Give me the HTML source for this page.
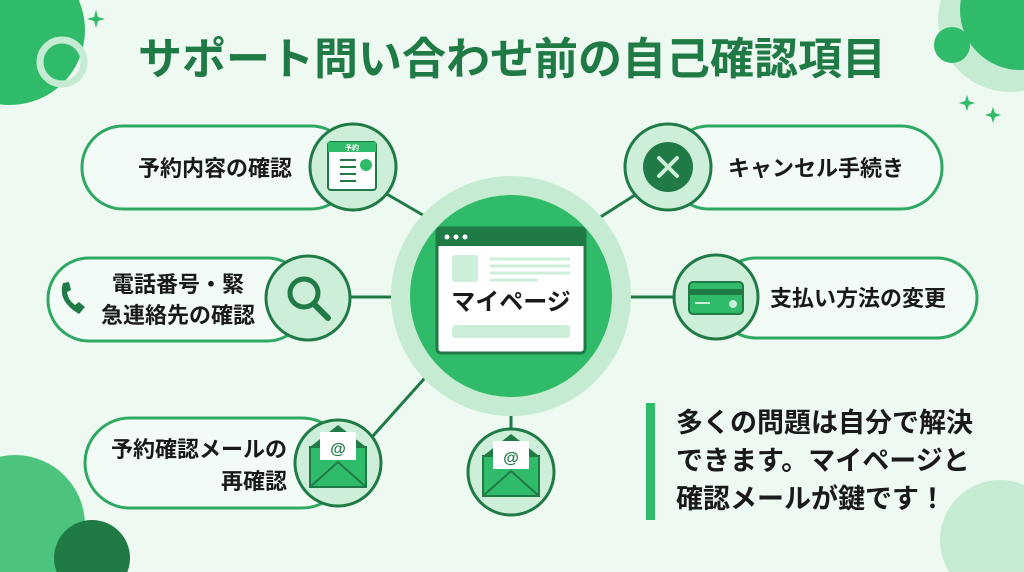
<!DOCTYPE html>
<html><head><meta charset="utf-8">
<style>
html,body{margin:0;padding:0;background:#eef9f2;}
svg{display:block;}
text{font-family:"Liberation Sans","Noto Sans CJK JP",sans-serif;font-weight:bold;}
</style></head>
<body>
<svg width="1024" height="572" viewBox="0 0 1024 572" xmlns="http://www.w3.org/2000/svg">
<rect width="1024" height="572" fill="#eef9f2"/>
<!-- decorations -->
<circle cx="10" cy="30" r="75" fill="#2fbb69"/>
<circle cx="62" cy="62" r="22" fill="none" stroke="#c5ebd3" stroke-width="7"/>
<path d="M96 10 L98 17 L105 19 L98 21 L96 28 L94 21 L87 19 L94 17Z" fill="#2fbb69"/>
<circle cx="1010" cy="20" r="72" fill="#c5ebd3"/>
<circle cx="1020" cy="10" r="60" fill="#2fbb69"/>
<circle cx="952" cy="45" r="18" fill="#2fbb69"/>
<path d="M967 95 L969 101 L975 103 L969 105 L967 111 L965 105 L959 103 L965 101Z" fill="#2fbb69"/>
<path d="M993 107 L995 113 L1001 115 L995 117 L993 123 L991 117 L985 115 L991 113Z" fill="#2fbb69"/>
<circle cx="15" cy="525" r="70" fill="#2fbb69" opacity="0.85"/>
<circle cx="92" cy="558" r="38" fill="#1f7a45"/>
<circle cx="1000" cy="540" r="60" fill="#c5ebd3"/>
<!-- title -->
<text x="512" y="74" font-size="44" fill="#1f7a45" text-anchor="middle">サポート問い合わせ前の自己確認項目</text>
<!-- connectors -->
<g stroke="#1f7a45" stroke-width="3">
<line x1="385" y1="193" x2="440" y2="225"/>
<line x1="350" y1="297" x2="410" y2="297"/>
<line x1="372" y1="437" x2="432" y2="370"/>
<line x1="635" y1="195" x2="588" y2="225"/>
<line x1="612" y1="297" x2="673" y2="297"/>
<line x1="511" y1="398" x2="511" y2="430"/>
</g>
<!-- pills -->
<g fill="#f3fbf6" stroke="#2fa864" stroke-width="3">
<rect x="82" y="126" width="270" height="83" rx="41"/>
<rect x="48" y="258" width="260" height="83" rx="41"/>
<rect x="85" y="418" width="262" height="90" rx="45"/>
<rect x="668" y="126" width="274" height="83" rx="41"/>
<rect x="716" y="258" width="261" height="80" rx="40"/>
</g>
<!-- icon circles -->
<g fill="#cdeed8" stroke="#1f7a45" stroke-width="3">
<circle cx="353" cy="167" r="43"/>
<circle cx="308" cy="298" r="42"/>
<circle cx="338" cy="463" r="43"/>
<circle cx="668" cy="167" r="43"/>
<circle cx="716" cy="297" r="42"/>
<circle cx="511" cy="472" r="43"/>
</g>
<!-- icon1: doc -->
<rect x="328" y="142" width="48" height="48" rx="3" fill="#fff" stroke="#1f7a45" stroke-width="2"/>
<rect x="328" y="142" width="48" height="10" fill="#2fbb69"/>
<text x="352" y="150" font-size="7" fill="#fff" text-anchor="middle">予約</text>
<g stroke="#1f7a45" stroke-width="2"><line x1="340" y1="160" x2="356" y2="160"/><line x1="340" y1="167" x2="356" y2="167"/><line x1="340" y1="174" x2="356" y2="174"/><line x1="340" y1="181" x2="356" y2="181"/></g>
<circle cx="366" cy="165" r="6" fill="#2fbb69"/>
<!-- icon2: search -->
<circle cx="304" cy="293" r="14" fill="none" stroke="#1f7a45" stroke-width="5"/>
<line x1="314" y1="304" x2="328" y2="318" stroke="#1f7a45" stroke-width="6" stroke-linecap="round"/>
<!-- phone -->
<path d="M63 283 q-6 18 16 31 l6-7 l-6-5 l-4 3 q-7-5-8-13 l4-2 l-2-8z" fill="#1f7a45"/>
<!-- envelopes -->
<g id="env">
<rect x="310" y="447" width="56" height="40" fill="#2fbb69" stroke="#1f7a45" stroke-width="2"/>
<polygon points="310,447 338,425 366,447" fill="#1f7a45"/>
<rect x="320" y="432" width="36" height="28" fill="#fff"/>
<text x="338" y="454" font-size="16" fill="#1f7a45" text-anchor="middle">@</text>
<polyline points="310,487 338,462 366,487" fill="none" stroke="#1f7a45" stroke-width="2"/>
</g>
<use href="#env" transform="translate(173,9)"/>
<!-- icon4: X -->
<circle cx="668" cy="167" r="25" fill="#1f7a45"/>
<g stroke="#cdeed8" stroke-width="4" stroke-linecap="round"><line x1="659" y1="158" x2="677" y2="176"/><line x1="677" y1="158" x2="659" y2="176"/></g>
<!-- icon5: card -->
<rect x="689" y="282" width="54" height="32" rx="4" fill="#2fbb69" stroke="#1f7a45" stroke-width="2"/>
<rect x="689" y="289" width="54" height="6" fill="#1f7a45"/>
<line x1="695" y1="303" x2="710" y2="303" stroke="#cdeed8" stroke-width="2"/>
<circle cx="733" cy="304" r="4" fill="#cdeed8"/>
<!-- center -->
<circle cx="511" cy="296" r="120" fill="#c5ebd3"/>
<circle cx="511" cy="296" r="101" fill="#2fbb69"/>
<rect x="437" y="228" width="148" height="125" rx="4" fill="#fff" stroke="#1f7a45" stroke-width="3"/>
<rect x="437" y="228" width="148" height="18" fill="#1f7a45"/>
<g fill="#fff"><circle cx="447" cy="237" r="2.5"/><circle cx="456" cy="237" r="2.5"/><circle cx="465" cy="237" r="2.5"/></g>
<rect x="452" y="255" width="26" height="27" rx="3" fill="#cdeed8"/>
<g stroke="#cdeed8" stroke-width="3"><line x1="490" y1="259" x2="570" y2="259"/><line x1="490" y1="266" x2="570" y2="266"/><line x1="490" y1="273" x2="570" y2="273"/><line x1="490" y1="280" x2="538" y2="280"/></g>
<text x="511" y="310" font-size="24" fill="#1a1a1a" text-anchor="middle">マイページ</text>
<rect x="452" y="325" width="118" height="13" rx="3" fill="#cdeed8"/>
<!-- labels -->
<g fill="#1a1a1a" font-size="22">
<text x="292" y="176" text-anchor="end">予約内容の確認</text>
<text x="178" y="292" text-anchor="middle">電話番号・緊</text>
<text x="178" y="323" text-anchor="middle">急連絡先の確認</text>
<text x="287" y="457" text-anchor="end">予約確認メールの</text>
<text x="287" y="489" text-anchor="end">再確認</text>
<text x="728" y="176">キャンセル手続き</text>
<text x="770" y="306">支払い方法の変更</text>
</g>
<rect x="646" y="403" width="9" height="117" fill="#2fbb69"/>
<g fill="#1a1a1a" font-size="27">
<text x="676" y="432">多くの問題は自分で解決</text>
<text x="676" y="470">できます。マイページと</text>
<text x="676" y="508">確認メールが鍵です！</text>
</g>
</svg>
</body></html>
